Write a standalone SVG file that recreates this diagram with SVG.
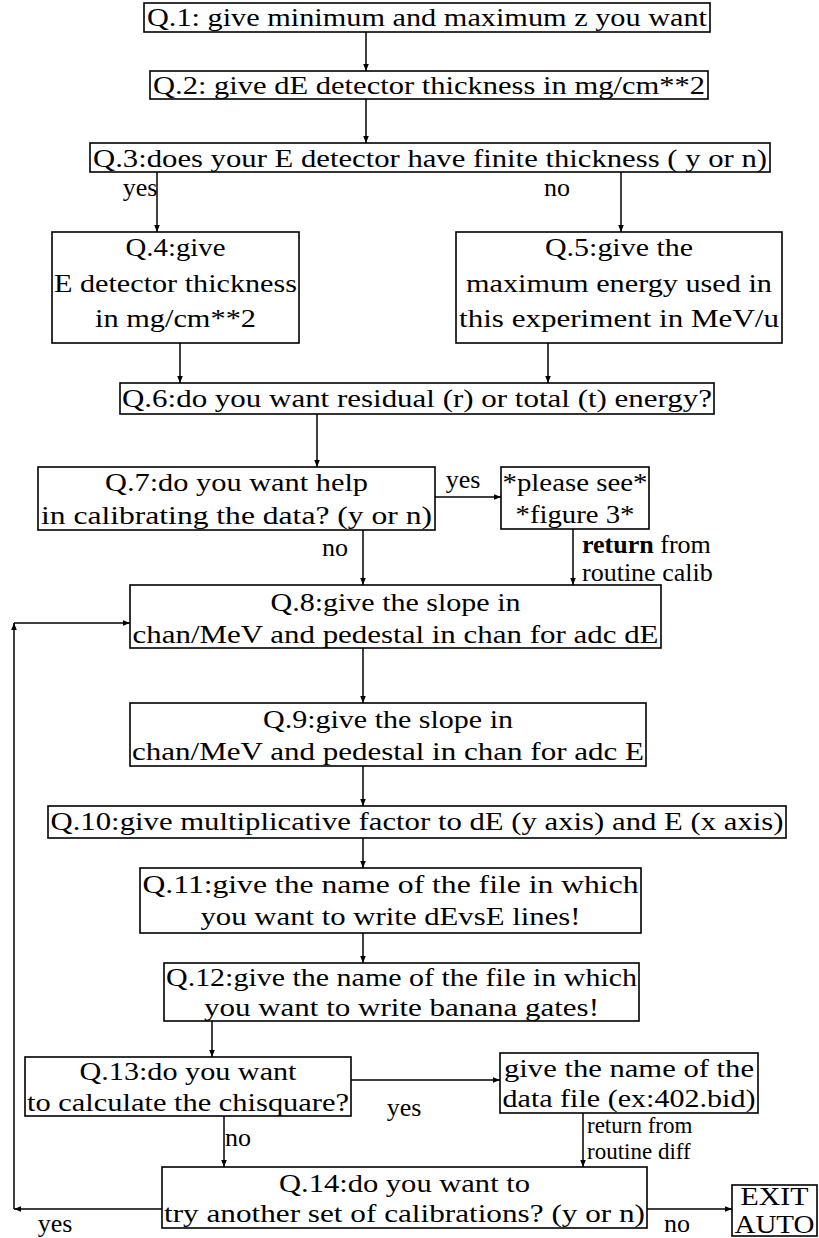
<svg xmlns="http://www.w3.org/2000/svg" width="819" height="1238" viewBox="0 0 819 1238">
<style>
  .box { fill: #fff; stroke: #000; stroke-width: 1.6; }
  .t { font-family: "Liberation Serif", "Times New Roman", serif; font-size: 26px; fill: #000; text-anchor: middle; }
  .l { font-family: "Liberation Serif", "Times New Roman", serif; font-size: 26px; fill: #000; }
  .s { font-family: "Liberation Serif", "Times New Roman", serif; font-size: 23px; fill: #000; }
  .c { fill: none; stroke: #000; stroke-width: 1.5; }
</style>
<defs>
  <marker id="ah" viewBox="0 0 10 10" refX="10" refY="5" markerWidth="7" markerHeight="7" markerUnits="userSpaceOnUse" orient="auto">
    <path d="M0,1 L10,5 L0,9 Z" fill="#000"/>
  </marker>
</defs>
<rect width="819" height="1238" fill="#fff"/>

<g id="connectors">
  <line class="c" x1="366" y1="32" x2="366" y2="71" marker-end="url(#ah)"/>
  <line class="c" x1="366" y1="99" x2="366" y2="143" marker-end="url(#ah)"/>
  <line class="c" x1="157" y1="172" x2="157" y2="232" marker-end="url(#ah)"/>
  <line class="c" x1="621" y1="172" x2="621" y2="232" marker-end="url(#ah)"/>
  <line class="c" x1="180" y1="343" x2="180" y2="383" marker-end="url(#ah)"/>
  <line class="c" x1="548" y1="343" x2="548" y2="383" marker-end="url(#ah)"/>
  <line class="c" x1="317" y1="414" x2="317" y2="467" marker-end="url(#ah)"/>
  <line class="c" x1="435" y1="497" x2="501" y2="497" marker-end="url(#ah)"/>
  <line class="c" x1="363" y1="530" x2="363" y2="585" marker-end="url(#ah)"/>
  <line class="c" x1="573" y1="529" x2="573" y2="585" marker-end="url(#ah)"/>
  <line class="c" x1="363" y1="648" x2="363" y2="703" marker-end="url(#ah)"/>
  <line class="c" x1="363" y1="766" x2="363" y2="806" marker-end="url(#ah)"/>
  <line class="c" x1="363" y1="838" x2="363" y2="868" marker-end="url(#ah)"/>
  <line class="c" x1="363" y1="933" x2="363" y2="963" marker-end="url(#ah)"/>
  <line class="c" x1="212" y1="1021" x2="212" y2="1057" marker-end="url(#ah)"/>
  <line class="c" x1="351" y1="1080" x2="500" y2="1080" marker-end="url(#ah)"/>
  <line class="c" x1="224" y1="1116" x2="224" y2="1167" marker-end="url(#ah)"/>
  <line class="c" x1="583" y1="1113" x2="583" y2="1167" marker-end="url(#ah)"/>
  <line class="c" x1="647" y1="1209" x2="732" y2="1209" marker-end="url(#ah)"/>
  <line class="c" x1="162" y1="1209" x2="14" y2="1209" marker-end="url(#ah)"/>
  <line class="c" x1="14" y1="1209" x2="14" y2="623" marker-end="url(#ah)"/>
  <line class="c" x1="14" y1="623" x2="130" y2="623" marker-end="url(#ah)"/>
</g>

<g id="labels">
  <text class="t" x="140" y="196">yes</text>
  <text class="t" x="557" y="196">no</text>
  <text class="t" x="463" y="488">yes</text>
  <text class="t" x="335" y="556">no</text>
  <text class="l" x="582" y="553"><tspan font-weight="bold">return</tspan> from</text>
  <text class="l" x="582" y="581">routine calib</text>
  <text class="t" x="404" y="1116">yes</text>
  <text class="t" x="238" y="1146">no</text>
  <text class="s" x="587" y="1133">return from</text>
  <text class="s" x="587" y="1159">routine diff</text>
  <text class="t" x="55" y="1232">yes</text>
  <text class="t" x="677" y="1232">no</text>
</g>

<g id="q1">
  <rect class="box" x="144" y="3" width="566" height="29"/>
  <text class="t" x="427" y="26" textLength="560" lengthAdjust="spacingAndGlyphs">Q.1: give minimum and maximum z you want</text>
</g>
<g id="q2">
  <rect class="box" x="150" y="71" width="558" height="28"/>
  <text class="t" x="429" y="94" textLength="552" lengthAdjust="spacingAndGlyphs">Q.2: give dE detector thickness in mg/cm**2</text>
</g>
<g id="q3">
  <rect class="box" x="90" y="143" width="680" height="29"/>
  <text class="t" x="430" y="167" textLength="674" lengthAdjust="spacingAndGlyphs">Q.3:does your E detector have finite thickness ( y or n)</text>
</g>
<g id="q4">
  <rect class="box" x="52" y="232" width="247" height="111"/>
  <text class="t" x="175.5" y="256" textLength="100" lengthAdjust="spacingAndGlyphs">Q.4:give</text>
  <text class="t" x="175.5" y="292" textLength="243" lengthAdjust="spacingAndGlyphs">E detector thickness</text>
  <text class="t" x="175.5" y="327" textLength="161" lengthAdjust="spacingAndGlyphs">in mg/cm**2</text>
</g>
<g id="q5">
  <rect class="box" x="456" y="232" width="326" height="111"/>
  <text class="t" x="619" y="256" textLength="148" lengthAdjust="spacingAndGlyphs">Q.5:give the</text>
  <text class="t" x="619" y="292" textLength="306" lengthAdjust="spacingAndGlyphs">maximum energy used in</text>
  <text class="t" x="619" y="327" textLength="320" lengthAdjust="spacingAndGlyphs">this experiment in MeV/u</text>
</g>
<g id="q6">
  <rect class="box" x="120" y="383" width="594" height="31"/>
  <text class="t" x="417" y="407" textLength="590" lengthAdjust="spacingAndGlyphs">Q.6:do you want residual (r) or total (t) energy?</text>
</g>
<g id="q7">
  <rect class="box" x="38" y="467" width="397" height="63"/>
  <text class="t" x="236.5" y="491" textLength="263" lengthAdjust="spacingAndGlyphs">Q.7:do you want help</text>
  <text class="t" x="236.5" y="524" textLength="391" lengthAdjust="spacingAndGlyphs">in calibrating the data? (y or n)</text>
</g>
<g id="fig3">
  <rect class="box" x="501" y="467" width="148" height="62"/>
  <text class="t" x="575" y="491" textLength="145" lengthAdjust="spacingAndGlyphs">*please see*</text>
  <text class="t" x="575" y="523" textLength="119" lengthAdjust="spacingAndGlyphs">*figure 3*</text>
</g>
<g id="q8">
  <rect class="box" x="130" y="585" width="531" height="63"/>
  <text class="t" x="395.5" y="611" textLength="250" lengthAdjust="spacingAndGlyphs">Q.8:give the slope in</text>
  <text class="t" x="395.5" y="643" textLength="526" lengthAdjust="spacingAndGlyphs">chan/MeV and pedestal in chan for adc dE</text>
</g>
<g id="q9">
  <rect class="box" x="130" y="703" width="516" height="63"/>
  <text class="t" x="388" y="728" textLength="250" lengthAdjust="spacingAndGlyphs">Q.9:give the slope in</text>
  <text class="t" x="388" y="760" textLength="512" lengthAdjust="spacingAndGlyphs">chan/MeV and pedestal in chan for adc E</text>
</g>
<g id="q10">
  <rect class="box" x="48" y="806" width="738" height="32"/>
  <text class="t" x="417" y="830" textLength="733" lengthAdjust="spacingAndGlyphs">Q.10:give multiplicative factor to dE (y axis) and E (x axis)</text>
</g>
<g id="q11">
  <rect class="box" x="140" y="868" width="501" height="65"/>
  <text class="t" x="390.5" y="893" textLength="496" lengthAdjust="spacingAndGlyphs">Q.11:give the name of the file in which</text>
  <text class="t" x="390.5" y="925" textLength="380" lengthAdjust="spacingAndGlyphs">you want to write dEvsE lines!</text>
</g>
<g id="q12">
  <rect class="box" x="164" y="963" width="475" height="58"/>
  <text class="t" x="401.5" y="986" textLength="471" lengthAdjust="spacingAndGlyphs">Q.12:give the name of the file in which</text>
  <text class="t" x="401.5" y="1016" textLength="395" lengthAdjust="spacingAndGlyphs">you want to write banana gates!</text>
</g>
<g id="q13">
  <rect class="box" x="25" y="1057" width="326" height="59"/>
  <text class="t" x="188" y="1080" textLength="217" lengthAdjust="spacingAndGlyphs">Q.13:do you want</text>
  <text class="t" x="188" y="1111" textLength="322" lengthAdjust="spacingAndGlyphs">to calculate the chisquare?</text>
</g>
<g id="datafile">
  <rect class="box" x="500" y="1053" width="258" height="60"/>
  <text class="t" x="629" y="1077" textLength="250" lengthAdjust="spacingAndGlyphs">give the name of the</text>
  <text class="t" x="629" y="1107" textLength="253" lengthAdjust="spacingAndGlyphs">data file (ex:402.bid)</text>
</g>
<g id="q14">
  <rect class="box" x="162" y="1167" width="485" height="61"/>
  <text class="t" x="404.5" y="1192" textLength="251" lengthAdjust="spacingAndGlyphs">Q.14:do you want to</text>
  <text class="t" x="404.5" y="1222" textLength="481" lengthAdjust="spacingAndGlyphs">try another set of calibrations? (y or n)</text>
</g>
<g id="exit">
  <rect class="box" x="732" y="1185" width="85" height="51"/>
  <text class="t" x="774.5" y="1205" textLength="68" lengthAdjust="spacingAndGlyphs">EXIT</text>
  <text class="t" x="774.5" y="1233" textLength="80" lengthAdjust="spacingAndGlyphs">AUTO</text>
</g>
</svg>
